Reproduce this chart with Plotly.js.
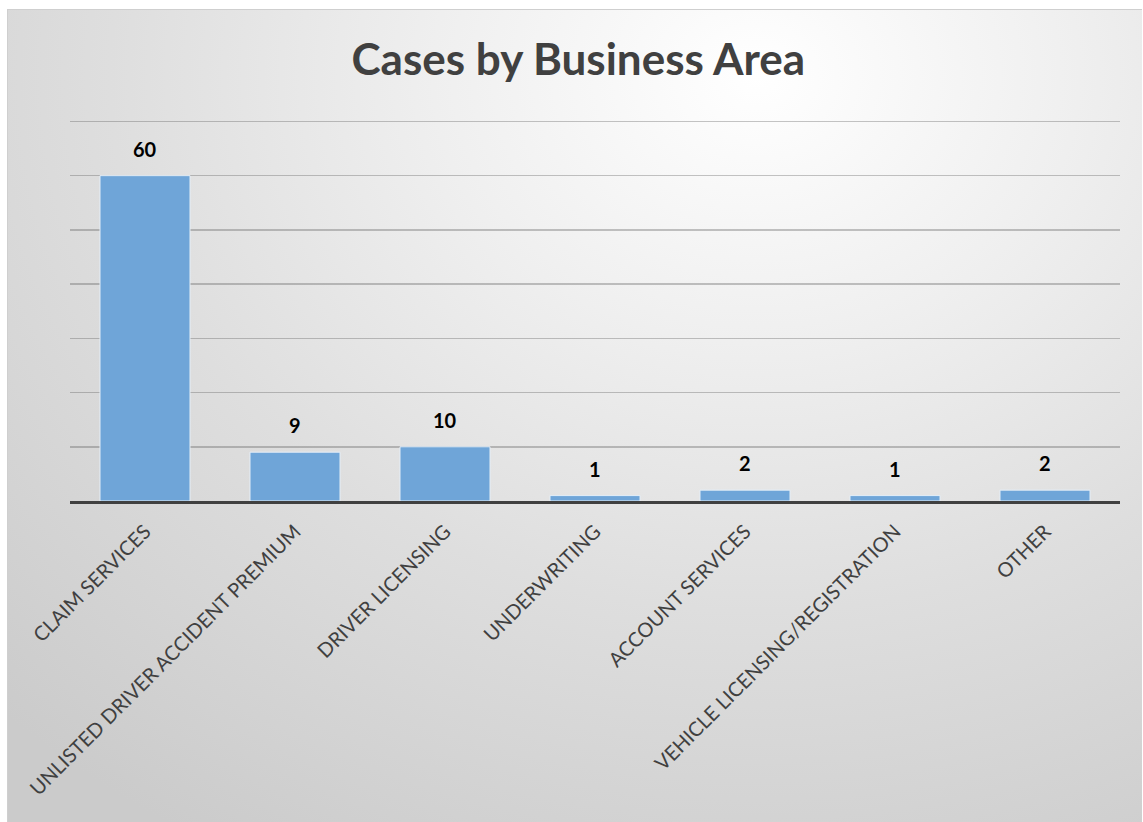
<!DOCTYPE html>
<html>
<head>
<meta charset="utf-8">
<script src="https://cdn.plot.ly/plotly-3.0.1.min.js"></script>
<style>
  html, body { margin: 0; padding: 0; background: #ffffff; }
  #bg {
    position: absolute; left: 7px; top: 9px; width: 1134px; height: 812px;
    border-top: 1px solid #cfcfcf; border-left: 1px solid #cfcfcf;
    background: radial-gradient(ellipse 95% 110% at 66% 8%, #ffffff 0%, #efefef 30%, #dedede 60%, #cbcbcb 100%);
  }
  #chart { position: absolute; left: 0; top: 0; width: 1143px; height: 822px; }
</style>
</head>
<body>
<div id="bg"></div>
<div id="chart"></div>
<script>
const categories = [
  "CLAIM SERVICES",
  "UNLISTED DRIVER ACCIDENT PREMIUM",
  "DRIVER LICENSING",
  "UNDERWRITING",
  "ACCOUNT SERVICES",
  "VEHICLE LICENSING/REGISTRATION",
  "OTHER"
];
const caseCounts = [60, 9, 10, 1, 2, 1, 2];
const chartTitle = "Cases by Business Area";

const trace = {
  type: "bar",
  x: categories,
  y: caseCounts,
  marker: { color: "#6fa5d8", line: { color: "#e4eef8", width: 1 } },
  hoverinfo: "x+y"
};

const annotations = categories.map((c, i) => ({
  x: c, y: caseCounts[i], xref: "x", yref: "y",
  text: String(caseCounts[i]),
  showarrow: false, yanchor: "bottom", yshift: 13,
  font: { family: "Lato, 'Open Sans', sans-serif", size: 20, color: "#000000", weight: "bold" }
}));

const layout = {
  width: 1143, height: 822,
  paper_bgcolor: "rgba(0,0,0,0)",
  plot_bgcolor: "rgba(0,0,0,0)",
  margin: { l: 70, r: 23, t: 116, b: 321 },
  bargap: 0.4,
  showlegend: false,
  title: {
    text: "<b>" + chartTitle + "</b>",
    x: 0.506, xanchor: "center", y: 0.927, yanchor: "middle",
    font: { family: "Lato, 'Open Sans', sans-serif", size: 44, color: "#404040" }
  },
  xaxis: {
    type: "category",
    tickangle: -45,
    tickfont: { family: "Lato, 'Open Sans', sans-serif", size: 20, color: "#404040" },
    ticklabelstandoff: 8,
    showline: true, linecolor: "#404040", linewidth: 3,
    ticks: "", showgrid: false, automargin: false
  },
  yaxis: {
    range: [0, 71],
    tick0: 0,
    dtick: 10,
    showticklabels: false,
    showgrid: true, gridcolor: "rgba(90,90,90,0.35)", gridwidth: 1.5,
    zeroline: false, ticks: "", automargin: false
  },
  annotations: annotations
};

Plotly.newPlot("chart", [trace], layout, { displayModeBar: false, staticPlot: true });
</script>
</body>
</html>
